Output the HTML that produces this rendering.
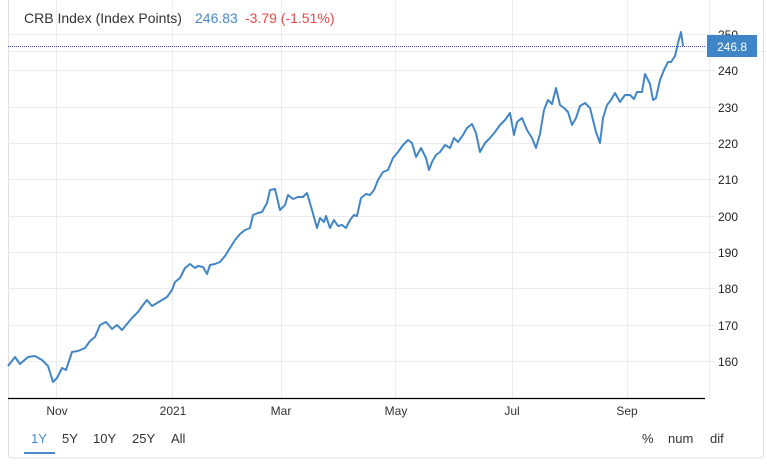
<!DOCTYPE html>
<html><head><style>
body{margin:0;background:#fff;width:767px;height:463px;overflow:hidden;font-family:"Liberation Sans",Arial,sans-serif;}
</style></head><body>
<svg width="767" height="463" xmlns="http://www.w3.org/2000/svg" font-family="Liberation Sans, Arial, sans-serif">
<rect x="8.5" y="-2" width="755" height="460" rx="3" fill="#fff" stroke="#e0e0e0"/>
<g stroke="#ececec" stroke-width="1">
<line x1="56.5" y1="0" x2="56.5" y2="398"/><line x1="172.5" y1="0" x2="172.5" y2="398"/>
<line x1="281.5" y1="0" x2="281.5" y2="398"/><line x1="395.5" y1="0" x2="395.5" y2="398"/>
<line x1="512.5" y1="0" x2="512.5" y2="398"/><line x1="627.5" y1="0" x2="627.5" y2="398"/>
<line x1="8" y1="34.5" x2="715" y2="34.5"/><line x1="8" y1="70.5" x2="715" y2="70.5"/>
<line x1="8" y1="107.5" x2="715" y2="107.5"/><line x1="8" y1="143.5" x2="715" y2="143.5"/>
<line x1="8" y1="179.5" x2="715" y2="179.5"/><line x1="8" y1="216.5" x2="715" y2="216.5"/>
<line x1="8" y1="252.5" x2="715" y2="252.5"/><line x1="8" y1="288.5" x2="715" y2="288.5"/>
<line x1="8" y1="325.5" x2="715" y2="325.5"/><line x1="8" y1="361.5" x2="715" y2="361.5"/>
<line x1="8" y1="51.5" x2="767" y2="51.5"/>
<line x1="709.5" y1="0" x2="709.5" y2="398"/>
</g>
<line x1="8" y1="398.5" x2="705" y2="398.5" stroke="#000" stroke-width="1.2"/>
<text x="24" y="23" font-size="14" fill="#333">CRB Index (Index Points)</text>
<text x="195" y="23" font-size="14" fill="#4a8ac9">246.83</text>
<text x="245" y="23" font-size="14" fill="#e8474a">-3.79 (-1.51%)</text>
<line x1="8" y1="46.5" x2="705" y2="46.5" stroke="#4a4ac0" stroke-dasharray="1,1"/>
<polyline fill="none" stroke="#4386c6" stroke-width="2" stroke-linejoin="round" points="8,366 15,357 20,364 28,357 35,356 42,360 48,366 53,382 57,378 62,368 66,370 72,352 78,351 85,348 90,341 95,337 100,325 106,322 112,329 117,325 122,330 127,324 132,318 138,312 143,305 147,300 152,306 157,303 162,300 167,297 172,290 175,282 180,278 185,268 190,264 195,268 198,266 203,267 207,274 210,265 215,264 220,262 225,256 230,248 235,240 240,234 245,230 250,228 253,215 258,213 262,212 267,203 270,190 275,189 280,210 285,205 288,195 293,199 298,197 303,197 307,193 312,210 317,228 320,218 324,222 326,216 330,228 334,220 338,226 342,225 346,228 350,220 354,215 357,216 361,198 366,194 370,195 374,190 378,180 383,172 388,170 393,158 398,152 403,145 408,140 412,143 416,157 421,148 426,158 429,170 432,162 436,155 440,152 445,145 450,148 454,138 458,142 463,135 467,128 472,124 476,133 480,152 485,143 490,138 495,132 500,125 505,120 510,113 514,135 517,122 522,118 527,130 532,138 536,148 540,134 544,110 548,100 552,104 556,88 560,105 564,108 568,112 572,125 576,118 580,106 585,103 590,108 596,132 600,143 603,118 607,105 611,100 615,93 620,102 625,95 630,95 634,99 637,92 642,92 645,74 650,84 653,100 656,98 660,80 664,70 668,62 671,62 675,56 678,43 681,32 683,46"/>
<g font-size="12" fill="#222">
<text x="718" y="39">250</text><text x="718" y="75">240</text><text x="718" y="112">230</text>
<text x="718" y="148">220</text><text x="718" y="184">210</text><text x="718" y="221">200</text>
<text x="718" y="257">190</text><text x="718" y="293">180</text><text x="718" y="330">170</text>
<text x="718" y="366">160</text>
</g>
<rect x="707" y="35" width="50" height="22" fill="#3d85c6"/>
<text x="732" y="51" font-size="12" fill="#fff" text-anchor="middle">246.8</text>
<g font-size="12" fill="#333" text-anchor="middle">
<text x="57" y="415">Nov</text><text x="173" y="415">2021</text><text x="281" y="415">Mar</text>
<text x="396" y="415">May</text><text x="512" y="415">Jul</text><text x="627" y="415">Sep</text>
</g>
<g font-size="13" fill="#333">
<text x="31" y="443" fill="#4a8ac9">1Y</text><text x="62" y="443">5Y</text><text x="93" y="443">10Y</text>
<text x="132" y="443">25Y</text><text x="171" y="443">All</text>
<text x="642" y="443">%</text><text x="668" y="443">num</text><text x="710" y="443">dif</text>
</g>
<line x1="24" y1="453" x2="55" y2="453" stroke="#4a8ac9" stroke-width="2"/>
</svg>
</body></html>
